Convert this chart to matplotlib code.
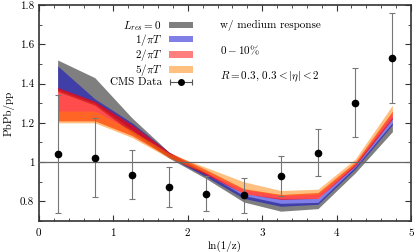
import numpy as np
import matplotlib
matplotlib.use("Agg")
import matplotlib.pyplot as plt
from matplotlib.patches import Patch
from matplotlib.ticker import MultipleLocator
from matplotlib.legend_handler import HandlerErrorbar
from matplotlib.container import ErrorbarContainer

plt.rcParams['font.family'] = 'serif'
plt.rcParams['font.serif'] = ['cmr10', 'DejaVu Serif']
plt.rcParams['mathtext.fontset'] = 'cm'
plt.rcParams['axes.formatter.use_mathtext'] = True

# CMS data
x_data = [0.25, 0.75, 1.25, 1.75, 2.25, 2.75, 3.25, 3.75, 4.25, 4.75]
y_data = [1.04, 1.022, 0.936, 0.873, 0.84, 0.83, 0.929, 1.048, 1.302, 1.531]
y_err = [0.30, 0.20, 0.125, 0.10, 0.09, 0.09, 0.10, 0.12, 0.175, 0.23]

# bands (lower, upper) at x_data
gray_lo = [1.36, 1.29, 1.15, 1.02, 0.915, 0.797, 0.75, 0.763, 0.945, 1.155]
gray_hi = [1.52, 1.43, 1.225, 1.05, 0.94, 0.83, 0.79, 0.795, 0.975, 1.20]
blue_lo = [1.37, 1.30, 1.165, 1.025, 0.925, 0.815, 0.775, 0.785, 0.965, 1.19]
blue_hi = [1.49, 1.322, 1.20, 1.05, 0.945, 0.84, 0.815, 0.815, 0.99, 1.23]
red_lo = [1.21, 1.21, 1.135, 1.025, 0.935, 0.84, 0.81, 0.815, 0.98, 1.22]
red_hi = [1.38, 1.31, 1.19, 1.05, 0.96, 0.865, 0.835, 0.845, 1.0, 1.26]
orng_lo = [1.20, 1.20, 1.125, 1.02, 0.945, 0.86, 0.83, 0.835, 0.99, 1.25]
orng_hi = [1.26, 1.26, 1.16, 1.045, 0.972, 0.90, 0.855, 0.862, 1.015, 1.29]

bands = [
    (gray_lo, gray_hi, '#000000', 0.5, r'$L_{res}=0$'),
    (blue_lo, blue_hi, '#0000d0', 0.5, r'$1/\pi T$'),
    (red_lo, red_hi, '#ff0000', 0.7, r'$2/\pi T$'),
    (orng_lo, orng_hi, '#ff8000', 0.5, r'$5/\pi T$'),
]

fig = plt.figure(figsize=(4.15, 2.52), dpi=100)
ax = fig.add_axes([39/415, 1-221/252, 372/415, 216/252])

handles = []
for lo, hi, c, a, lab in bands:
    ax.fill_between(x_data, lo, hi, color=c, alpha=a, lw=0)
    handles.append(Patch(facecolor=c, alpha=0.5, edgecolor='none', label=lab))

ax.axhline(1.0, color='#666666', lw=0.9, zorder=3)

ax.errorbar(x_data, y_data, yerr=y_err, fmt='o', color='black', ms=4.5,
            ecolor='#777777', elinewidth=0.8, capsize=2, capthick=0.8, zorder=5)
eb = ax.errorbar([np.nan], [np.nan], xerr=[1], fmt='o', color='black', ms=4,
                 ecolor='#555555', elinewidth=0.8, capsize=2, capthick=0.8,
                 label='CMS Data')
handles.append(eb)

leg = ax.legend(handles=handles, loc='upper right', bbox_to_anchor=(0.435, 0.97),
                markerfirst=False, frameon=False, fontsize=8, handlelength=2.2,
                handleheight=0.5, labelspacing=-0.08, handletextpad=0.6,
                borderpad=0.2,
                handler_map={ErrorbarContainer: HandlerErrorbar(xerr_size=1.0)})

ax.text(0.487, 0.907, 'w/ medium response', transform=ax.transAxes, fontsize=8, va='center')
ax.text(0.487, 0.792, r'$0-10\%$', transform=ax.transAxes, fontsize=8, va='center')
ax.text(0.487, 0.667, r'$R=0.3$, $0.3<|\eta|<2$', transform=ax.transAxes, fontsize=8, va='center')

ax.set_xlim(0, 5)
ax.set_ylim(0.7, 1.8)
ax.xaxis.set_major_locator(MultipleLocator(1))
ax.xaxis.set_minor_locator(MultipleLocator(0.2))
ax.yaxis.set_minor_locator(MultipleLocator(0.1))
ax.set_yticks([0.8, 1.0, 1.2, 1.4, 1.6, 1.8])
ax.set_yticklabels(['0.8', '1', '1.2', '1.4', '1.6', '1.8'])
ax.tick_params(which='both', direction='in', top=True, right=True, labelsize=8,
               color='#333333')
ax.tick_params(which='major', length=4, width=0.8)
ax.tick_params(which='minor', length=2.5, width=0.6)
for s in ax.spines.values():
    s.set_linewidth(1.2)
    s.set_color('#333333')

ax.set_xlabel('ln(1/z)', fontsize=8, labelpad=2)
ax.set_ylabel('PbPb/pp', fontsize=8, labelpad=4)

fig.savefig('out.png', dpi=100)
